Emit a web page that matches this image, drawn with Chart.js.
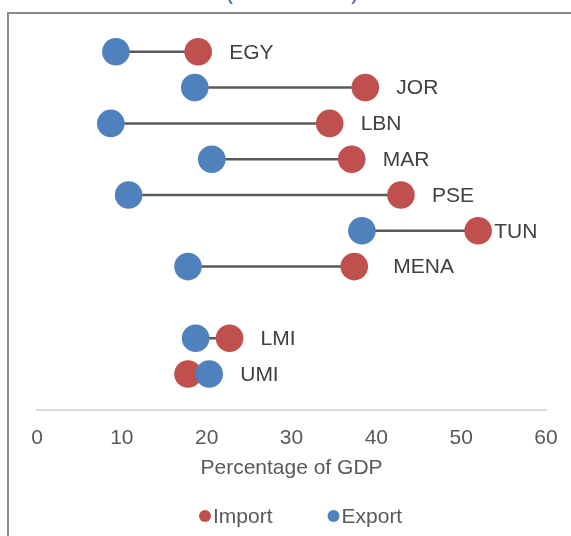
<!DOCTYPE html>
<html>
<head>
<meta charset="utf-8">
<script src="https://cdn.jsdelivr.net/npm/chart.js@4/dist/chart.umd.min.js"></script>
<style>
  html, body { margin: 0; padding: 0; background: #fff; overflow: hidden; }
  body { width: 571px; height: 536px; position: relative; font-family: "Liberation Sans", Arial, sans-serif; }
  #title {
    position: absolute; left: 0; width: 584px; top: -16px;
    text-align: center; font-size: 19px; line-height: 19px; color: #2f4f86;
    white-space: nowrap;
  }
  #frame {
    position: absolute; left: 7px; top: 12px; width: 700px; height: 700px;
    border-left: 2px solid #8a8a8a; border-top: 2px solid #8a8a8a;
  }
  #wrap { position: absolute; left: 0; top: 0; width: 571px; height: 536px; }
</style>
</head>
<body>
<div id="title">(Share of GDP)</div>
<div id="frame"></div>
<div id="wrap"><canvas id="chart"></canvas></div>
<script>
// Rows from top to bottom; the empty entry leaves a gap before the income groups
const categories = ['EGY', 'JOR', 'LBN', 'MAR', 'PSE', 'TUN', 'MENA', '', 'LMI', 'UMI'];
const importValues = [19.0, 38.7, 34.5, 37.1, 42.9, 52.0, 37.4, null, 22.7, 17.8];
const exportValues = [9.3, 18.6, 8.7, 20.6, 10.8, 38.3, 17.8, null, 18.7, 20.3];
const xTicks = [0, 10, 20, 30, 40, 50, 60];

const RED = '#c0504d';
const BLUE = '#4f81bd';
const FONT = '"Liberation Sans", Arial, sans-serif';
const FONT_SIZE = 21;

// y position of each row: top row highest
const rowY = i => categories.length - i;

const toPoints = vals => vals
  .map((v, i) => (v === null ? null : { x: v, y: rowY(i), label: categories[i] }))
  .filter(p => p !== null);

// Connector between the export and import dot of each row
const connectors = {
  id: 'connectors',
  beforeDatasetsDraw(chart) {
    const { ctx, scales: { x, y } } = chart;
    ctx.save();
    ctx.strokeStyle = '#595959';
    ctx.lineWidth = 2.5;
    categories.forEach((c, i) => {
      if (importValues[i] === null) return;
      const py = y.getPixelForValue(rowY(i));
      ctx.beginPath();
      ctx.moveTo(x.getPixelForValue(exportValues[i]), py);
      ctx.lineTo(x.getPixelForValue(importValues[i]), py);
      ctx.stroke();
    });
    ctx.restore();
  }
};

// Row names written to the right of the rightmost dot
const labelNudge = { TUN: -15, MENA: 8 };
const rowLabels = {
  id: 'rowLabels',
  afterDatasetsDraw(chart) {
    const { ctx, scales: { x, y } } = chart;
    ctx.save();
    ctx.font = FONT_SIZE + 'px ' + FONT;
    ctx.fillStyle = '#404040';
    ctx.textAlign = 'left';
    ctx.textBaseline = 'middle';
    categories.forEach((c, i) => {
      if (importValues[i] === null) return;
      const right = Math.max(importValues[i], exportValues[i]);
      const px = x.getPixelForValue(right) + 31 + (labelNudge[c] || 0);
      ctx.fillText(c, px, y.getPixelForValue(rowY(i)) + 1);
    });
    ctx.restore();
  }
};

// Legend row under the axis title
const dotLegend = {
  id: 'dotLegend',
  afterDraw(chart) {
    const { ctx } = chart;
    const items = chart.data.datasets;
    ctx.save();
    ctx.font = FONT_SIZE + 'px ' + FONT;
    ctx.textBaseline = 'middle';
    let xPos = 199;
    const yPos = 516;
    items.forEach(d => {
      ctx.fillStyle = d.backgroundColor;
      ctx.beginPath();
      ctx.arc(xPos + 6, yPos, 6, 0, Math.PI * 2);
      ctx.fill();
      ctx.fillStyle = '#595959';
      ctx.fillText(d.label, xPos + 14, yPos + 1);
      xPos += 14 + ctx.measureText(d.label).width + 55;
    });
    ctx.restore();
  }
};

new Chart(document.getElementById('chart'), {
  type: 'scatter',
  data: {
    datasets: [
      { label: 'Import', data: toPoints(importValues), backgroundColor: RED, borderWidth: 0, pointRadius: 13.8, order: 2 },
      { label: 'Export', data: toPoints(exportValues), backgroundColor: BLUE, borderWidth: 0, pointRadius: 13.8, order: 1 }
    ]
  },
  options: {
    responsive: true,
    maintainAspectRatio: false,
    animation: false,
    events: [],
    layout: { padding: { left: 37, right: 25, top: 16, bottom: 55 } },
    plugins: {
      legend: { display: false },
      tooltip: { enabled: false }
    },
    scales: {
      x: {
        type: 'linear',
        min: 0,
        max: 60,
        afterBuildTicks: axis => { axis.ticks = xTicks.map(v => ({ value: v })); },
        grid: { display: false, drawTicks: true, tickLength: 10 },
        border: { display: true, color: '#d9d9d9', width: 2 },
        ticks: { color: '#595959', font: { family: FONT, size: FONT_SIZE }, padding: 5.4, maxRotation: 0 },
        title: {
          display: true, text: 'Percentage of GDP', color: '#595959',
          font: { family: FONT, size: FONT_SIZE }, padding: { top: 0, bottom: 0 }
        }
      },
      y: {
        type: 'linear',
        min: 0,
        max: categories.length + 1,
        display: false
      }
    }
  },
  plugins: [connectors, rowLabels, dotLegend]
});
</script>
</body>
</html>
